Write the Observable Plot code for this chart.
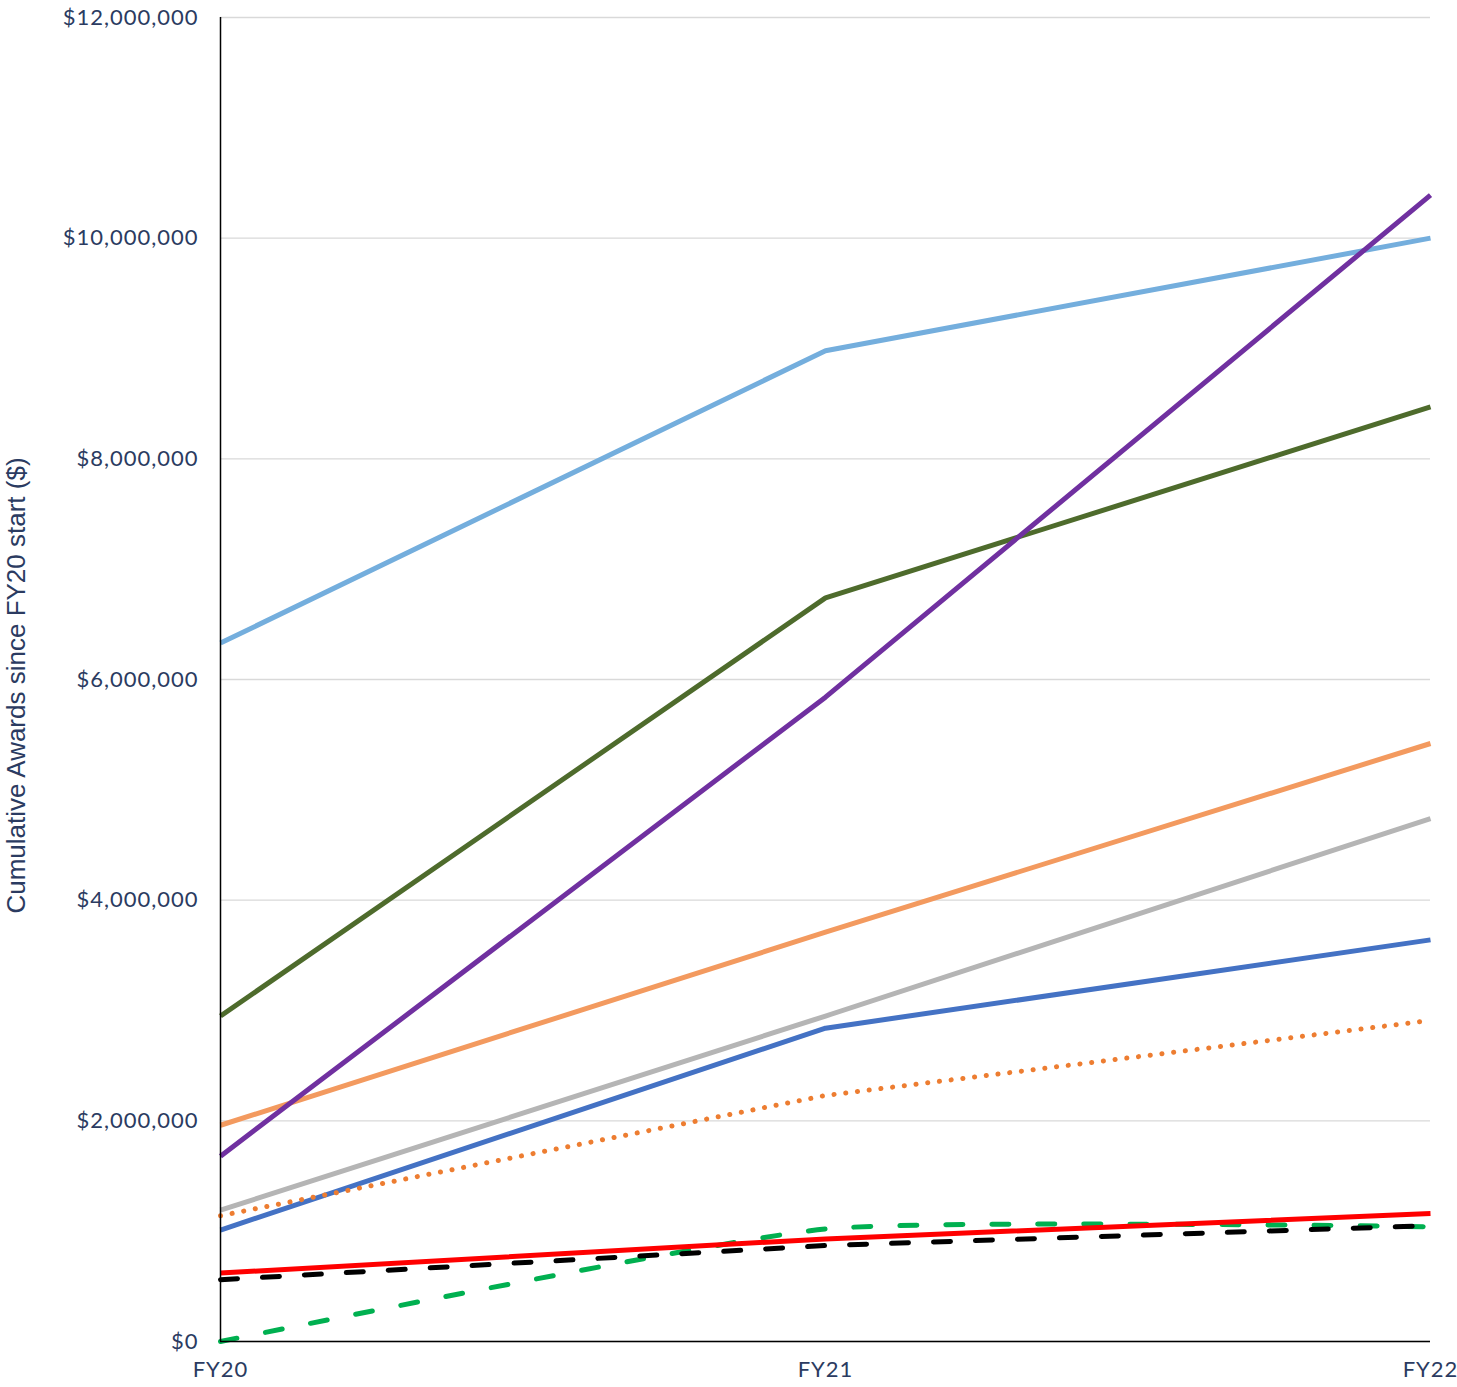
<!DOCTYPE html>
<html>
<head>
<meta charset="utf-8">
<script src="https://cdn.jsdelivr.net/npm/d3@7"></script>
<script src="https://cdn.jsdelivr.net/npm/@observablehq/plot@0.6"></script>
<style>
  html, body { margin: 0; padding: 0; background: #fff; }
  #chart { width: 1457px; height: 1387px; }
  #chart svg g[aria-label="y-axis tick label"] text,
  #chart svg g[aria-label="x-axis tick label"] text { letter-spacing: 1px; }
</style>
</head>
<body>
<div id="chart"></div>
<script>
const years = ["FY20", "FY21", "FY22"];
const yTicks = [0, 2000000, 4000000, 6000000, 8000000, 10000000, 12000000];
const yTitle = "Cumulative Awards since FY20 start ($)";

const greenDashed  = [0, 1020000, 1040000];
const blackDashed  = [560000, 870000, 1050000];
const redSolid     = [620000, 930000, 1160000];
const orangeDotted = [1140000, 2230000, 2910000];
const blueSolid    = [1010000, 2840000, 3640000];
const graySolid    = [1190000, 2950000, 4740000];
const orangeSolid  = [1960000, 3710000, 5420000];
const greenSolid   = [2950000, 6740000, 8470000];
const lightBlue    = [6330000, 8980000, 10000000];
const purpleSolid  = [1680000, 5840000, 10390000];

const series = [
  {name: "orangeSolid", values: orangeSolid, color: "#f39a5f", dash: null, curve: "linear"},
  {name: "graySolid", values: graySolid, color: "#b5b5b5", dash: null, curve: "linear"},
  {name: "blueSolid", values: blueSolid, color: "#4472c4", dash: null, curve: "linear"},
  {name: "orangeDotted", values: orangeDotted, color: "#ed7d31", dash: "0.1,11.7", curve: "linear"},
  {name: "greenSolid", values: greenSolid, color: "#4e6b2c", dash: null, curve: "linear"},
  {name: "lightBlue", values: lightBlue, color: "#74aedd", dash: null, curve: "linear"},
  {name: "purpleSolid", values: purpleSolid, color: "#7030a0", dash: null, curve: "linear"},
  {name: "greenDashed", values: greenDashed, color: "#00b050", dash: "17,29", curve: "cardinal", tension: 0.5},
  {name: "blackDashed", values: blackDashed, color: "#000000", dash: "17,25", curve: "linear"},
  {name: "redSolid", values: redSolid, color: "#ff0000", dash: null, curve: "linear"}
];

const lineMarks = series.map(s => {
  const rows = years.map((yr, i) => ({year: yr, value: s.values[i]}));
  const opts = {
    x: "year", y: "value",
    stroke: s.color, strokeWidth: 5,
    strokeDasharray: s.dash || undefined,
    strokeLinecap: s.dash ? "round" : "butt",
    strokeLinejoin: "round",
    curve: s.curve
  };
  if (s.tension != null) opts.tension = s.tension;
  return Plot.line(rows, opts);
});

const textColor = "#2b3b61";

const chart = Plot.plot({
  width: 1457,
  height: 1387,
  marginLeft: 220,
  marginRight: 27,
  marginTop: 17,
  marginBottom: 46,
  style: {fontFamily: "Lato, 'Open Sans', sans-serif", fontSize: "22px", color: textColor, background: "#fff"},
  x: {type: "point", domain: years, padding: 0},
  y: {domain: [0, 12000000]},
  marks: [
    Plot.gridY(yTicks, {stroke: "#d9d9d9", strokeOpacity: 1, strokeWidth: 1.3}),
    Plot.axisY(yTicks, {
      tickSize: 0, tickPadding: 22, label: null,
      tickFormat: d3.format("$,"), fontSize: 22
    }),
    Plot.axisX({tickSize: 0, tickPadding: 20, label: null, fontSize: 22}),
    Plot.text([yTitle], {
      frameAnchor: "left", rotate: -90, dx: -204, dy: 6, textAnchor: "middle",
      fontSize: 26, fontFamily: "'Liberation Sans', Arial, sans-serif", fill: textColor
    }),
    ...lineMarks,
    Plot.ruleX([years[0]], {stroke: "#000", strokeWidth: 1.5}),
    Plot.ruleY([0], {stroke: "#000", strokeWidth: 1.5})
  ]
});

document.getElementById("chart").appendChild(chart);
</script>
</body>
</html>
